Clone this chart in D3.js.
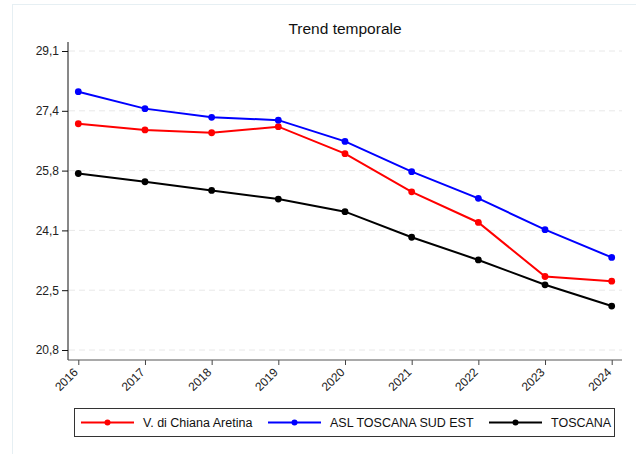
<!doctype html>
<html lang="it">
<head>
<meta charset="utf-8">
<title>Trend temporale</title>
<script src="https://cdn.jsdelivr.net/npm/d3@7"></script>
<style>
    body { margin: 0; background: #fff; }
    svg { display: block; font-family: "Liberation Sans", Arial, sans-serif; }
    .grid line { stroke: #e8e8e8; stroke-dasharray: 6,4; }
    .axis text { font-size: 12px; fill: #222; }
</style>
</head>
<body>
<svg width="636" height="454"></svg>
<script>
    var years = [2016, 2017, 2018, 2019, 2020, 2021, 2022, 2023, 2024];
    var chiana = [27.08, 26.91, 26.83, 27.00, 26.25, 25.19, 24.34, 22.84, 22.71];
    var aslSudEst = [27.97, 27.50, 27.26, 27.18, 26.59, 25.75, 25.01, 24.14, 23.37];
    var toscana = [25.70, 25.47, 25.23, 24.99, 24.64, 23.93, 23.30, 22.61, 22.02];
    var yTickValues = [20.8, 22.46, 24.12, 25.78, 27.44, 29.1];
    var yTickLabels = ["20,8", "22,5", "24,1", "25,8", "27,4", "29,1"];
    var seriesNames = ["V. di Chiana Aretina", "ASL TOSCANA SUD EST", "TOSCANA"];
    var seriesColors = ["#ff0000", "#0000ff", "#000000"];

    var series = [chiana, aslSudEst, toscana].map(function (vals, i) {
        return { name: seriesNames[i], color: seriesColors[i], values: vals };
    });

    var svg = d3.select("svg");

    // outer frame
    svg.append("rect")
        .attr("x", 12.5).attr("y", 4.5)
        .attr("width", 640).attr("height", 460)
        .attr("fill", "none")
        .attr("stroke", "#e6eff3");

    var plot = { left: 68, right: 622, top: 42, bottom: 360 };

    var x = d3.scaleLinear().domain([2016, 2024]).range([78.3, 611.7]);
    var y = d3.scaleLinear().domain([20.8, 29.1]).range([350, 51]);

    // title
    svg.append("text")
        .attr("x", (plot.left + plot.right) / 2)
        .attr("y", 34)
        .attr("text-anchor", "middle")
        .attr("font-size", "15.5px")
        .attr("fill", "#111")
        .text("Trend temporale");

    // gridlines
    svg.append("g")
        .attr("class", "grid")
        .selectAll("line")
        .data(yTickValues)
        .enter()
        .append("line")
        .attr("x1", plot.left + 1)
        .attr("x2", plot.right)
        .attr("y1", function (d) { return y(d); })
        .attr("y2", function (d) { return y(d); });

    // y axis
    var yAxis = svg.append("g")
        .attr("class", "axis")
        .attr("transform", "translate(" + plot.left + ",0)")
        .call(d3.axisLeft(y)
            .tickValues(yTickValues)
            .tickSize(6)
            .tickPadding(3)
            .tickFormat(function (d, i) { return yTickLabels[i]; }));
    yAxis.select(".domain").remove();
    yAxis.selectAll("line").attr("stroke", "#111");
    yAxis.append("line")
        .attr("x1", 0).attr("x2", 0)
        .attr("y1", plot.top).attr("y2", plot.bottom)
        .attr("stroke", "#111");

    // x axis
    var xAxis = svg.append("g")
        .attr("class", "axis")
        .attr("transform", "translate(0," + plot.bottom + ")")
        .call(d3.axisBottom(x)
            .tickValues(years)
            .tickSize(5)
            .tickFormat(d3.format("d")));
    xAxis.select(".domain").remove();
    xAxis.selectAll("line").attr("stroke", "#444");
    xAxis.append("line")
        .attr("x1", plot.left).attr("x2", plot.right)
        .attr("y1", 0).attr("y2", 0)
        .attr("stroke", "#555");
    xAxis.selectAll("text")
        .attr("text-anchor", "end")
        .attr("dy", "0.35em")
        .attr("transform", "translate(-3,10) rotate(-45)")
        .attr("y", 0)
        .attr("x", 0);

    // lines
    var line = d3.line()
        .x(function (d, i) { return x(years[i]); })
        .y(function (d) { return y(d); });

    var sg = svg.append("g")
        .selectAll("g")
        .data(series)
        .enter()
        .append("g");

    sg.append("path")
        .attr("d", function (d) { return line(d.values); })
        .attr("fill", "none")
        .attr("stroke", function (d) { return d.color; })
        .attr("stroke-width", 2);

    sg.selectAll("circle")
        .data(function (d) { return d.values.map(function (v, i) { return { v: v, i: i, c: d.color }; }); })
        .enter()
        .append("circle")
        .attr("cx", function (d) { return x(years[d.i]); })
        .attr("cy", function (d) { return y(d.v); })
        .attr("r", 3.4)
        .attr("fill", function (d) { return d.c; });

    // legend
    var legend = svg.append("g");
    legend.append("rect")
        .attr("x", 74.5).attr("y", 408.5)
        .attr("width", 540).attr("height", 28)
        .attr("fill", "#fff")
        .attr("stroke", "#333");

    var legendX = [81, 268, 489];
    var li = legend.selectAll("g")
        .data(series)
        .enter()
        .append("g")
        .attr("transform", function (d, i) { return "translate(" + legendX[i] + ",422.5)"; });
    li.append("line")
        .attr("x1", 0).attr("x2", 53)
        .attr("stroke", function (d) { return d.color; })
        .attr("stroke-width", 2);
    li.append("circle")
        .attr("cx", 26.5).attr("r", 3)
        .attr("fill", function (d) { return d.color; });
    li.append("text")
        .attr("x", 62)
        .attr("dy", "0.35em")
        .attr("font-size", "12.5px")
        .attr("fill", "#111")
        .text(function (d) { return d.name; });
</script>
</body>
</html>
